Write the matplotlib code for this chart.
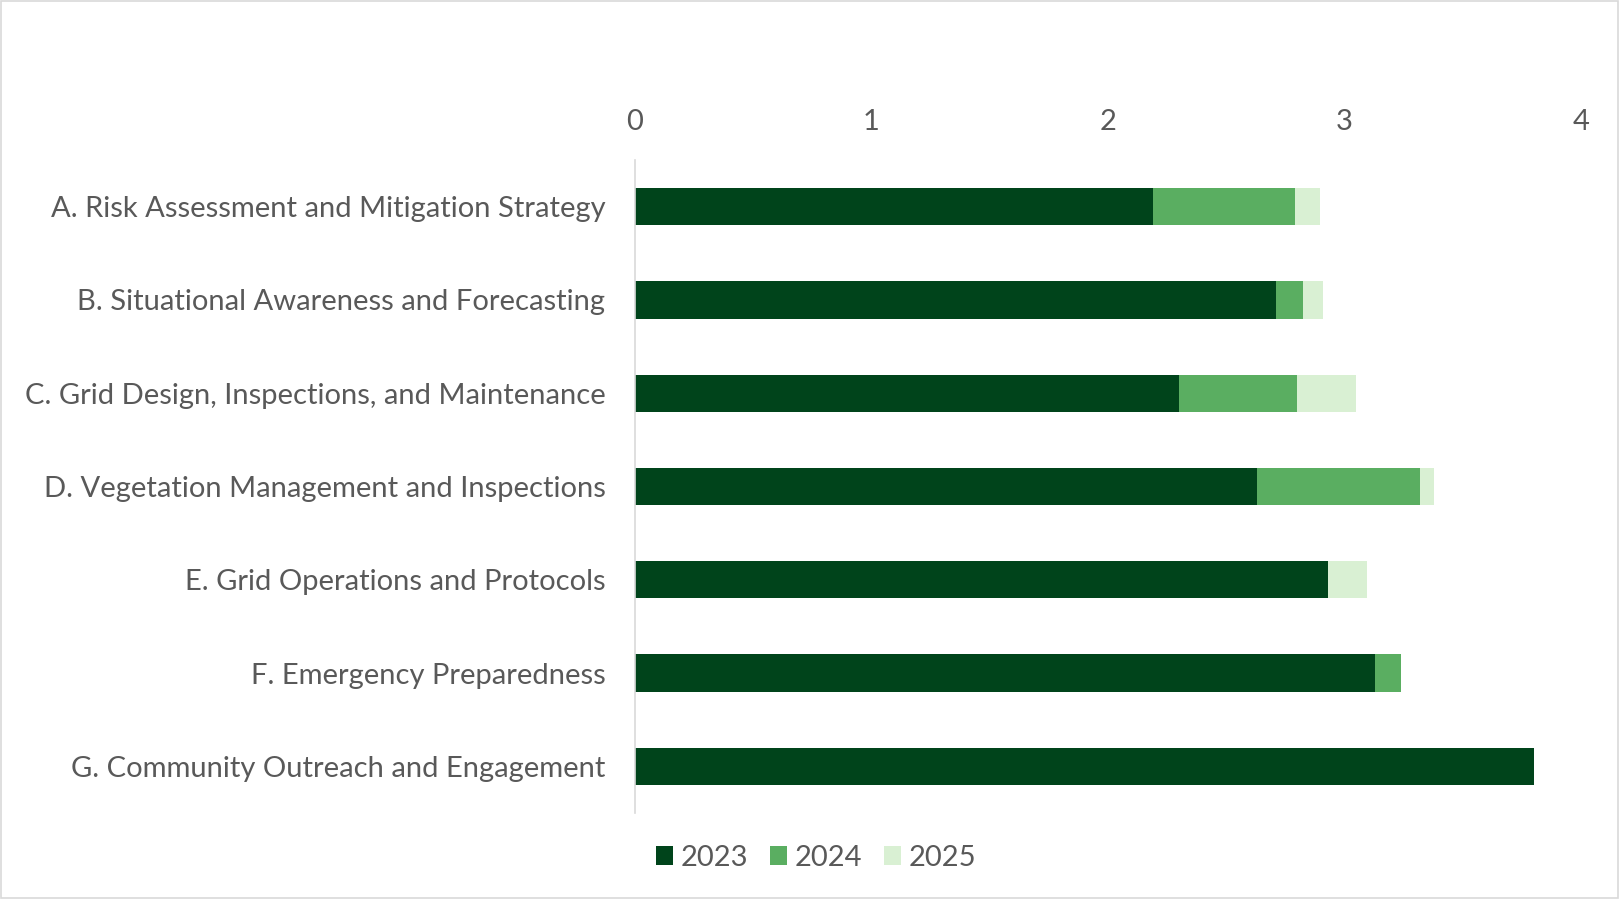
import matplotlib.pyplot as plt
import numpy as np
from matplotlib.patches import Rectangle

categories = [
    "A. Risk Assessment and Mitigation Strategy",
    "B. Situational Awareness and Forecasting",
    "C. Grid Design, Inspections, and Maintenance",
    "D. Vegetation Management and Inspections",
    "E. Grid Operations and Protocols",
    "F. Emergency Preparedness",
    "G. Community Outreach and Engagement",
]
v2023 = [2.19, 2.71, 2.30, 2.63, 2.93, 3.13, 3.80]
v2024 = [0.60, 0.115, 0.50, 0.69, 0.0, 0.11, 0.0]
v2025 = [0.105, 0.085, 0.25, 0.06, 0.165, 0.0, 0.0]
series = ["2023", "2024", "2025"]
colors = ["#00441B", "#5AAE61", "#D9F0D3"]

plt.rcParams['font.family'] = ['Lato', 'DejaVu Sans']
fig = plt.figure(figsize=(16.19, 8.99), dpi=100)
ax = fig.add_axes([0.392, 0.0957, 0.5845, 0.7263])

y = np.arange(len(categories))
left = np.zeros(len(categories))
for name, vals, c in zip(series, [v2023, v2024, v2025], colors):
    ax.barh(y, vals, left=left, height=0.4, color=c, label=name)
    left += np.array(vals)

ax.set_ylim(len(categories) - 0.5, -0.5)
ax.set_xlim(0, 4)
ax.set_xticks([0, 1, 2, 3, 4])
ax.xaxis.tick_top()
ax.set_yticks(y)
ax.set_yticklabels(categories)
ax.tick_params(axis='both', length=0, labelsize=21, labelcolor='#595959')
ax.tick_params(axis='x', pad=18)
ax.tick_params(axis='y', pad=21)
for s in ['top', 'right', 'bottom']:
    ax.spines[s].set_visible(False)
ax.spines['left'].set_color('#D9D9D9')
ax.spines['left'].set_linewidth(1.2)

leg = fig.legend(loc='center', bbox_to_anchor=(0.504, 0.046), ncol=3, frameon=False,
                 fontsize=21, handlelength=0.6, handleheight=0.6, handletextpad=0.25,
                 columnspacing=0.75)
for t in leg.get_texts():
    t.set_color('#595959')

fig.patches.append(Rectangle((0.0006, 0.001), 0.9988, 0.998, transform=fig.transFigure,
                             fill=False, edgecolor='#D9D9D9', linewidth=1.2))

fig.savefig("out.png", dpi=100)
